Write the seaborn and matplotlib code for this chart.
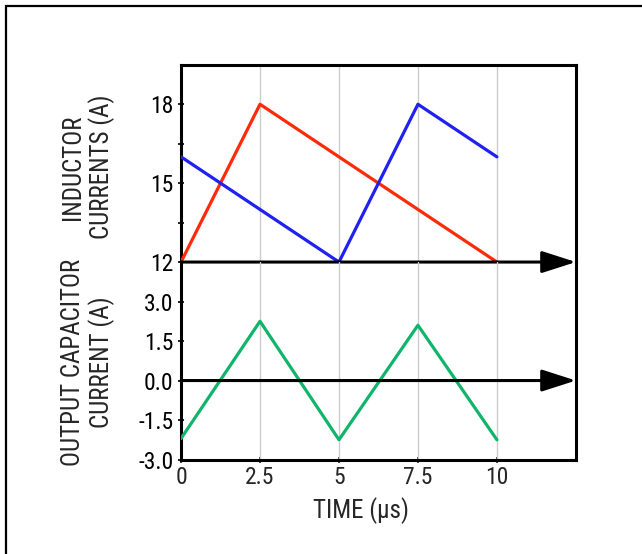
import matplotlib
matplotlib.use("Agg")
import matplotlib.pyplot as plt
import seaborn as sns
import pandas as pd
from matplotlib.patches import Rectangle

# data
time_red = [0, 2.5, 10]
current_red = [12, 18, 12]
time_blue = [0, 5, 7.5, 10]
current_blue = [16, 12, 18, 16]
time_cap = [0, 2.5, 5, 7.5, 10]
current_cap = [-2.2, 2.25, -2.25, 2.1, -2.25]

x_ticks = [0, 2.5, 5, 7.5, 10]
x_tick_labels = ["0", "2.5", "5", "7.5", "10"]
top_ticks = [12, 15, 18]
top_minor = [13.5, 16.5]
bot_ticks = [-3.0, -1.5, 0.0, 1.5, 3.0]
bot_tick_labels = ["-3.0", "-1.5", "0.0", "1.5", "3.0"]

sns.set_style("white")
plt.rcParams["font.family"] = ["Roboto Condensed", "Liberation Sans", "DejaVu Sans"]

RED = "#ff2a0a"
BLUE = "#2020f0"
GREEN = "#10b46a"
FS = 17
LFS = 18

fig = plt.figure(figsize=(6.42, 5.54), dpi=100)
ax1 = fig.add_axes([0.282, 0.527, 0.615, 0.356])
ax2 = fig.add_axes([0.282, 0.1705, 0.615, 0.3565])

df_red = pd.DataFrame({"t": time_red, "i": current_red})
df_blue = pd.DataFrame({"t": time_blue, "i": current_blue})
df_cap = pd.DataFrame({"t": time_cap, "i": current_cap})

sns.lineplot(data=df_red, x="t", y="i", color=RED, lw=2.3, ax=ax1, zorder=3)
sns.lineplot(data=df_blue, x="t", y="i", color=BLUE, lw=2.3, ax=ax1, zorder=3)
sns.lineplot(data=df_cap, x="t", y="i", color=GREEN, lw=2.3, ax=ax2, zorder=3)

for ax in (ax1, ax2):
    ax.set_xlim(0, 12.5)
    ax.set_xlabel("")
    ax.set_ylabel("")
    for xv in x_ticks[1:]:
        ax.axvline(xv, color="#cccccc", lw=1, zorder=1)
    for s in ax.spines.values():
        s.set_color("black")
        s.set_linewidth(2.2)
    ax.tick_params(axis="y", which="both", direction="inout", length=5, width=1.2,
                   labelsize=FS, pad=3, left=True, colors="black")
    ax.set_facecolor("none")

ax1.set_ylim(12, 19.5)
ax1.set_yticks(top_ticks)
ax1.set_yticks(top_minor, minor=True)
ax1.tick_params(axis="y", which="minor", direction="inout", length=4, width=1.2, left=True)
ax1.set_xticks([])
ax1.spines["bottom"].set_visible(False)

ax2.set_ylim(-3, 4.5)
ax2.set_yticks(bot_ticks)
ax2.set_yticklabels(bot_tick_labels)
ax2.set_xticks(x_ticks)
ax2.set_xticklabels(x_tick_labels)
ax2.tick_params(axis="x", direction="inout", length=5, width=1.2, labelsize=FS,
                pad=2, bottom=True)
ax2.spines["top"].set_visible(False)

arrow = dict(arrowstyle="-|>,head_length=1.4,head_width=0.45", color="black",
             lw=2.2, shrinkA=0, shrinkB=0, mutation_scale=15)
ax1.annotate("", xy=(12.5, 12), xytext=(0, 12), arrowprops=arrow,
             annotation_clip=False, zorder=5)
ax2.annotate("", xy=(12.5, 0), xytext=(0, 0), arrowprops=arrow,
             annotation_clip=False, zorder=5)

fig.text(0.137, 0.699, "INDUCTOR\nCURRENTS (A)", rotation=90, ha="center",
         va="center", fontsize=LFS, linespacing=1.12, multialignment="center")
fig.text(0.137, 0.3466, "OUTPUT CAPACITOR\nCURRENT (A)", rotation=90, ha="center",
         va="center", fontsize=LFS, linespacing=1.12, multialignment="center")
fig.text(0.562, 0.079, "TIME (µs)", ha="center", va="center", fontsize=LFS)

fig.patches.append(Rectangle((6 / 642, -0.1), 1.2, (554 - 6) / 554 + 0.1,
                             transform=fig.transFigure, fill=False,
                             edgecolor="black", lw=1.6))

fig.savefig("out.png", dpi=100)
